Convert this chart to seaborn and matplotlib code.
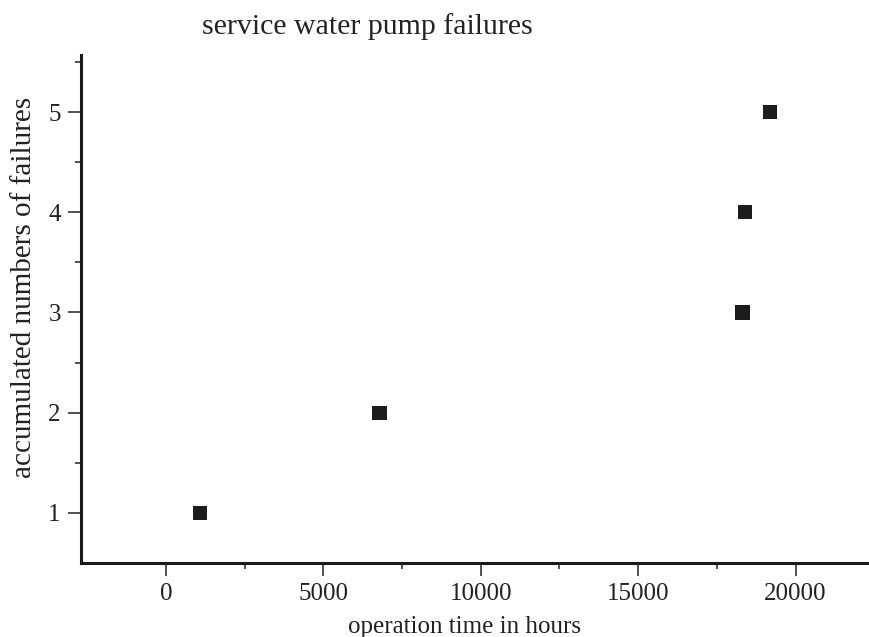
import numpy as np
import pandas as pd
import seaborn as sns
import matplotlib.pyplot as plt
from matplotlib.ticker import MultipleLocator, FixedLocator

# Data
hours = [1070, 6780, 18310, 18390, 19180]
failures = [1, 2, 3, 4, 5]

df = pd.DataFrame({"hours": hours, "failures": failures})

sns.set_theme(style="ticks")
plt.rcParams['font.family'] = ['Liberation Serif', 'DejaVu Serif']
plt.rcParams['text.color'] = '#222222'

fig = plt.figure(figsize=(8.7, 6.37), dpi=100)
ax = fig.add_axes([0.0931, 0.1162, 0.9046, 0.7975])

sns.scatterplot(data=df, x="hours", y="failures", marker="s", s=105,
                color="#1c1c1c", edgecolor="none", ax=ax)

ax.set_xlim(-2700, 22300)
ax.set_ylim(0.5, 5.57)
ax.xaxis.set_major_locator(MultipleLocator(5000))
ax.xaxis.set_minor_locator(FixedLocator([2500, 7500, 12500, 17500]))
ax.yaxis.set_major_locator(MultipleLocator(1))
ax.yaxis.set_minor_locator(FixedLocator([1.5, 2.5, 3.5, 4.5, 5.5]))

sns.despine(ax=ax)
for sp in ["left", "bottom"]:
    ax.spines[sp].set_linewidth(2.2)
    ax.spines[sp].set_color("#1a1a1a")

ax.tick_params(which="major", length=9.5, width=1.2, color="#333333",
               labelsize=18, labelcolor="#222222", pad=5)
ax.tick_params(which="minor", length=4.5, width=1.2, color="#333333")

ax.set_xlabel("")
ax.set_ylabel("")
fig.text(0.534, 0.0063, "operation time in hours", ha="center", va="baseline", fontsize=18)
fig.text(0.028, 0.548, "accumulated numbers of failures", ha="center", va="center",
         rotation=90, fontsize=21)
fig.text(0.422, 0.958, "service water pump failures", ha="center", va="center", fontsize=21.5)

plt.savefig("out.png", dpi=100)
plt.close()
